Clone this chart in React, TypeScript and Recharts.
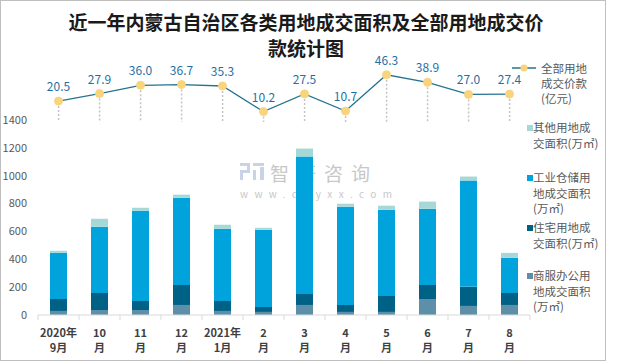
import React from 'react';
import { ComposedChart, BarChart, Bar, Line, XAxis, YAxis, LabelList } from 'recharts';

// 横轴分两行显示
const monthTop = ['2020年', '10', '11', '12', '2021年', '2', '3', '4', '5', '6', '7', '8'];
const monthBottom = ['9月', '月', '月', '月', '1月', '月', '月', '月', '月', '月', '月', '月'];

// 各类用地成交面积(万㎡)
const commercialArea = [29, 36, 36, 72, 29, 22, 72, 22, 22, 115, 65, 72];
const residentialArea = [86, 122, 65, 144, 72, 36, 79, 50, 115, 101, 137, 86];
const industrialArea = [331, 476, 648, 626, 518, 554, 987, 706, 619, 547, 763, 252];
const otherArea = [15, 57, 21, 22, 29, 14, 57, 21, 29, 51, 29, 36];

// 全部用地成交价款(亿元)
const totalPrice = [20.5, 27.9, 36.0, 36.7, 35.3, 10.2, 27.5, 10.7, 46.3, 38.9, 27.0, 27.4];

const areaTicks = [0, 200, 400, 600, 800, 1000, 1200, 1400];

const data = monthTop.map((m, i) => ({
  month: m + monthBottom[i],
  top: m,
  bottom: monthBottom[i],
  commercial: commercialArea[i],
  residential: residentialArea[i],
  industrial: industrialArea[i],
  other: otherArea[i],
  price: totalPrice[i],
}));

const FONT = "'Noto Sans CJK SC', 'Liberation Sans', sans-serif";

const COLORS = {
  other: '#A5D8D7',
  industrial: '#00A3DC',
  residential: '#006186',
  commercial: '#5D8FA8',
  line: '#24738F',
  dot: '#F8D47C',
  label: '#1F6FA5',
};

function MonthTick(props: any) {
  const { x, y, payload, index } = props;
  const half = payload && payload.offset ? payload.offset : 20.5;
  const d = data[index] || { top: '', bottom: '' };
  return (
    <g>
      <line x1={x - half} x2={x - half} y1={y} y2={y + 5} stroke="#d9d9d9" />
      {index === data.length - 1 && <line x1={x + half} x2={x + half} y1={y} y2={y + 5} stroke="#d9d9d9" />}
      <text x={x} y={y + 17} textAnchor="middle" dominantBaseline="central" fontSize={11} fontWeight="bold" fill="#404040" fontFamily={FONT}>
        {d.top}
      </text>
      <text x={x} y={y + 32} textAnchor="middle" dominantBaseline="central" fontSize={11} fontWeight="bold" fill="#404040" fontFamily={FONT}>
        {d.bottom}
      </text>
    </g>
  );
}

function DropLine(props: any) {
  const { x, y, width, height } = props;
  const cx = x + width / 2;
  return <line x1={cx} x2={cx} y1={y + 5} y2={y + height} stroke="#c4c4c4" strokeWidth={1.5} strokeDasharray="2 2" />;
}

function PriceDot(props: any) {
  const { cx, cy } = props;
  return <circle cx={cx} cy={cy} r={4} fill={COLORS.dot} stroke={COLORS.dot} />;
}

function LegendItem({ top, color, lines }: { top: number; color: string; lines: string[] }) {
  return (
    <div style={{ position: 'absolute', left: 527, top, fontSize: 11.5, lineHeight: '15.5px', color: '#595959' }}>
      <div style={{ position: 'absolute', left: 0, top: 5, width: 6, height: 6, background: color }} />
      <div style={{ marginLeft: 6 }}>
        {lines.map((l) => (
          <div key={l}>{l}</div>
        ))}
      </div>
    </div>
  );
}

export default function App() {
  return (
    <div style={{ position: 'absolute', left: 0, top: 0, width: 620, height: 363, background: '#fff', fontFamily: FONT, overflow: 'hidden' }}>
      {/* 外框 */}
      <div style={{ position: 'absolute', left: 0, top: 0, width: 604, height: 359, border: '1px solid #bfbfbf' }} />

      {/* 水印 */}
      <div style={{ position: 'absolute', left: 240, top: 162 }}>
        <svg width={24} height={18} style={{ position: 'absolute', left: 0, top: 1 }}>
          <rect x={0} y={0} width={10} height={3} fill="#c9d3e6" />
          <rect x={7} y={0} width={3} height={9} fill="#c9d3e6" />
          <rect x={0} y={7} width={10} height={3} fill="#c9d3e6" />
          <rect x={0} y={7} width={3} height={10} fill="#c9d3e6" />
          <rect x={13} y={0} width={11} height={3} fill="#c9d3e6" />
          <rect x={13} y={7} width={3} height={10} fill="#c9d3e6" />
          <rect x={20} y={4} width={4} height={13} fill="#c9d3e6" />
        </svg>
        <div style={{ position: 'absolute', left: 30, top: -3, fontSize: 19, letterSpacing: 8, color: '#c8c8c8', whiteSpace: 'nowrap' }}>智研咨询</div>
        <div style={{ position: 'absolute', left: 0, top: 24, fontSize: 10, letterSpacing: 6.4, color: '#c8c8c8', whiteSpace: 'nowrap' }}>www.chyxx.com</div>
      </div>

      {/* 标题 */}
      <div style={{ position: 'absolute', left: 0, top: 9, width: 612, textAlign: 'center', fontSize: 19, lineHeight: '26px', fontWeight: 'bold', color: '#1a1a1a' }}>
        <div>近一年内蒙古自治区各类用地成交面积及全部用地成交价</div>
        <div>款统计图</div>
      </div>

      {/* 面积柱状图 */}
      <div style={{ position: 'absolute', left: 0, top: 0 }}>
        <BarChart width={620} height={363} data={data} margin={{ top: 120, right: 90, left: 0, bottom: 8 }} barSize={17}>
          <XAxis
            dataKey="month"
            interval={0}
            height={40}
            tickLine={false}
            tickSize={0}
            tickMargin={0}
            axisLine={{ stroke: '#d9d9d9' }}
            tick={<MonthTick />}
          />
          <YAxis
            width={38}
            domain={[0, 1400]}
            ticks={areaTicks}
            axisLine={false}
            tickLine={false}
            dx={-3}
            tick={{ fontSize: 11, fill: '#595959', fontFamily: FONT }}
          />
          <Bar dataKey="commercial" stackId="a" fill={COLORS.commercial} isAnimationActive={false} />
          <Bar dataKey="residential" stackId="a" fill={COLORS.residential} isAnimationActive={false} />
          <Bar dataKey="industrial" stackId="a" fill={COLORS.industrial} isAnimationActive={false} />
          <Bar dataKey="other" stackId="a" fill={COLORS.other} isAnimationActive={false} />
        </BarChart>
      </div>

      {/* 价款折线图 */}
      <div style={{ position: 'absolute', left: 0, top: 0 }}>
        <ComposedChart width={620} height={122} data={data} margin={{ top: 71, right: 90, left: 38, bottom: 0 }} style={{ overflow: 'visible' }}>
          <XAxis dataKey="month" hide />
          <YAxis hide domain={[0, 50]} />
          <Bar dataKey="price" shape={<DropLine />} isAnimationActive={false} />
          <Line
            dataKey="price"
            stroke={COLORS.line}
            strokeWidth={1.3}
            dot={<PriceDot />}
            activeDot={false}
            isAnimationActive={false}
          >
            <LabelList dataKey="price" position="top" offset={10} fill={COLORS.label} fontSize={12} fontFamily={FONT} formatter={(v: any) => Number(v).toFixed(1)} />
          </Line>
        </ComposedChart>
      </div>

      {/* 图例 */}
      <div style={{ position: 'absolute', left: 512, top: 61, fontSize: 11.5, lineHeight: '15px', color: '#595959' }}>
        <svg width={26} height={10} style={{ position: 'absolute', left: 0, top: 2 }}>
          <line x1={0} x2={24} y1={5} y2={5} stroke={COLORS.line} strokeWidth={1.5} />
          <circle cx={12} cy={5} r={3.5} fill={COLORS.dot} />
        </svg>
        <div style={{ marginLeft: 29 }}>
          <div>全部用地</div>
          <div>成交价款</div>
          <div>(亿元)</div>
        </div>
      </div>
      <LegendItem top={120} color={COLORS.other} lines={['其他用地成', '交面积(万㎡)']} />
      <LegendItem top={170} color={COLORS.industrial} lines={['工业仓储用', '地成交面积', '(万㎡)']} />
      <LegendItem top={220} color={COLORS.residential} lines={['住宅用地成', '交面积(万㎡)']} />
      <LegendItem top={268} color={COLORS.commercial} lines={['商服办公用', '地成交面积', '(万㎡)']} />
    </div>
  );
}
